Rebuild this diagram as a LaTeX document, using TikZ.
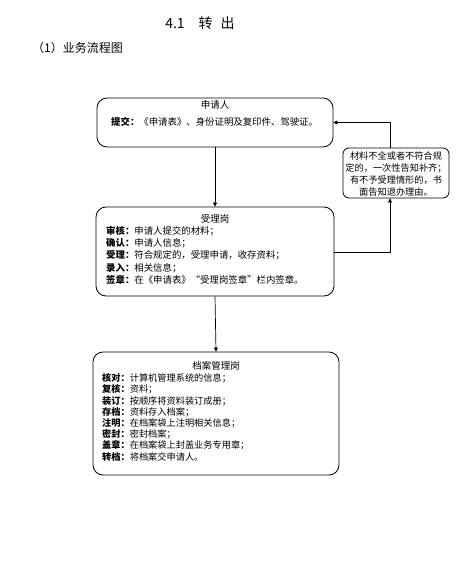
\documentclass[tikz,border=0pt]{standalone}
\usepackage{fontspec}
\setmainfont{Noto Sans CJK SC}
\usetikzlibrary{arrows.meta}
\tikzset{
  box/.style={draw=black, line width=0.8pt, rounded corners=10pt, inner sep=0pt},
  sbox/.style={draw=black, line width=0.8pt, rounded corners=6pt, inner sep=0pt},
  conn/.style={draw=black, line width=0.7pt},
  arr/.style={conn, -{Triangle[length=4pt,width=4pt]}},
  ttl/.style={font=\fontsize{9.5}{11}\selectfont, inner sep=0pt},
  body/.style={font=\fontsize{9.4}{12.3}\selectfont, align=left, inner sep=0pt, anchor=north west},
}
\begin{document}
\begin{tikzpicture}[x=1pt,y=-1pt]
\useasboundingbox (0,0) rectangle (467,580);
% headings
\node[font=\fontsize{14}{16}\selectfont, inner sep=0pt] (h1) at (200,23) {4.1\hspace{14pt}转\hspace{8pt}出};
\node[font=\fontsize{12}{14}\selectfont, inner sep=0pt, anchor=west] (h2) at (32,48) {（1）业务流程图};
% boxes
\node[box, minimum width=236pt, minimum height=49pt] (b1) at (215,122.5) {};
\node[box, minimum width=238pt, minimum height=89pt] (b2) at (215,251.5) {};
\node[box, minimum width=246pt, minimum height=123pt] (b3) at (216,413.5) {};
\node[sbox, minimum width=106pt, minimum height=50pt] (sb) at (396,173) {};
% box 1 text
\node[ttl] (t1) at (215,105) {申请人};
\node[body, anchor=west] (l1) at (111,122) {\textbf{提交：}《申请表》、身份证明及复印件、驾驶证。};
% box 2 text
\node[ttl] (t2) at (215,219) {受理岗};
\node[body] (l2) at (106,226) {\textbf{审核：}申请人提交的材料；\\
\textbf{确认：}申请人信息；\\
\textbf{受理：}符合规定的，受理申请，收存资料；\\
\textbf{录入：}相关信息；\\
\textbf{签章：}在《申请表》“受理岗签章”栏内签章。};
% box 3 text
\node[ttl] (t3) at (216,366) {档案管理岗};
\node[body, font=\fontsize{9.2}{11.2}\selectfont] (l3) at (102,373.5) {\textbf{核对：}计算机管理系统的信息；\\
\textbf{复核：}资料；\\
\textbf{装订：}按顺序将资料装订成册；\\
\textbf{存档：}资料存入档案；\\
\textbf{注明：}在档案袋上注明相关信息；\\
\textbf{密封：}密封档案；\\
\textbf{盖章：}在档案袋上封盖业务专用章；\\
\textbf{转档：}将档案交申请人。};
% side box text
\node[font=\fontsize{9.2}{11.8}\selectfont, align=center, inner sep=0pt] (st) at (396,174) {材料不全或者不符合规\\定的，一次性告知补齐；\\有不予受理情形的，书\\面告知退办理由。};
% connectors
\draw[arr] (b1.south) -- (b2.north);
\draw[arr] (b2.south) -- (b3.north);
\coordinate (c1) at (390,252);
\draw[arr] (b2.east |- c1) -- (c1) -- (c1 |- sb.south);
\draw[arr] (c1 |- sb.north) |- (b1.east);
\end{tikzpicture}
\end{document}
